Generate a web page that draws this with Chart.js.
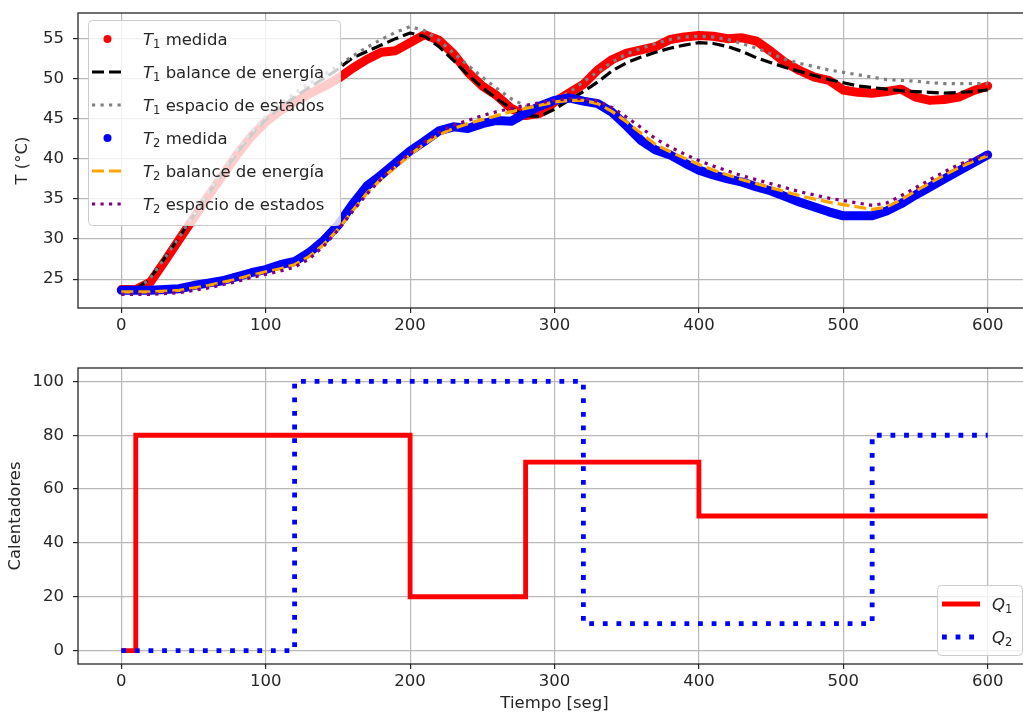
<!DOCTYPE html>
<html>
<head>
<meta charset="utf-8">
<title>Temperaturas y calentadores</title>
<script src="https://cdn.jsdelivr.net/npm/chart.js@4/dist/chart.umd.min.js"></script>
<style>
  html, body { margin: 0; padding: 0; background: #ffffff; overflow: hidden; width: 1023px; height: 717px; }
  .panel { position: absolute; left: 0; }
</style>
</head>
<body>
<div class="panel" style="top:0px"><canvas id="temperaturas" width="1040" height="345"></canvas></div>
<div class="panel" style="top:350px"><canvas id="calentadores" width="1040" height="367"></canvas></div>
<script>
// Tiempo de muestreo (s)
const tiempo = [0, 10, 20, 30, 40, 50, 60, 70, 80, 90,
  100, 110, 120, 130, 140, 150, 160, 170, 180, 190,
  200, 210, 220, 230, 240, 250, 260, 270, 280, 290,
  300, 310, 320, 330, 340, 350, 360, 370, 380, 390,
  400, 410, 420, 430, 440, 450, 460, 470, 480, 490,
  500, 510, 520, 530, 540, 550, 560, 570, 580, 590, 600];

// Temperatura 1 (°C)
const t1Medida = [23.7, 23.7, 24.6, 27.2, 29.9, 32.6, 35.3, 37.9, 40.5, 42.8,
  44.6, 46.0, 47.1, 48.1, 49.0, 50.0, 51.3, 52.4, 53.3, 53.5,
  54.5, 55.5, 54.8, 53.1, 50.8, 49.1, 47.9, 46.3, 45.4, 45.7,
  47.1, 48.2, 49.3, 51.1, 52.4, 53.2, 53.6, 54.0, 54.9, 55.2,
  55.4, 55.3, 55.0, 55.1, 54.7, 53.4, 52.0, 51.0, 50.2, 49.8,
  48.6, 48.3, 48.2, 48.4, 48.7, 47.7, 47.3, 47.4, 47.7, 48.5, 49.1];
const t1Balance = [23.6, 23.7, 25.1, 27.6, 30.2, 32.9, 35.6, 38.2, 40.7, 43.0,
  44.9, 46.4, 47.7, 48.9, 50.0, 51.2, 52.6, 53.4, 54.2, 55.0,
  55.7, 55.3, 54.0, 52.3, 50.5, 48.9, 47.5, 46.3, 45.4, 45.3,
  46.2, 47.3, 48.4, 49.6, 51.0, 52.0, 52.7, 53.3, 53.8, 54.2,
  54.5, 54.4, 54.0, 53.4, 52.6, 52.0, 51.4, 50.9, 50.4, 49.9,
  49.5, 49.1, 48.9, 48.7, 48.5, 48.4, 48.3, 48.2, 48.3, 48.4, 48.6];
const t1Estados = [23.5, 23.6, 25.1, 27.6, 30.2, 33.0, 35.8, 38.5, 41.1, 43.4,
  45.3, 46.9, 48.2, 49.4, 50.5, 51.6, 52.8, 53.9, 54.9, 55.8,
  56.5, 56.0, 54.8, 53.2, 51.7, 50.2, 48.8, 47.5, 46.6, 46.5,
  47.2, 48.3, 49.6, 50.9, 52.1, 53.1, 53.8, 54.4, 54.9, 55.2,
  55.3, 55.2, 54.9, 54.4, 53.8, 53.1, 52.4, 51.9, 51.5, 51.1,
  50.8, 50.5, 50.2, 49.9, 49.8, 49.7, 49.5, 49.4, 49.4, 49.4, 49.4];

// Temperatura 2 (°C)
const t2Medida = [23.6, 23.6, 23.6, 23.7, 23.8, 24.2, 24.5, 24.8, 25.3, 25.8,
  26.2, 26.8, 27.2, 28.3, 29.8, 31.7, 34.3, 36.6, 38.0, 39.5,
  41.0, 42.2, 43.5, 44.0, 43.8, 44.4, 44.8, 44.7, 45.7, 46.6,
  47.3, 47.6, 47.2, 46.9, 45.8, 44.1, 42.3, 41.1, 40.5, 39.5,
  38.6, 38.0, 37.5, 37.1, 36.5, 36.0, 35.3, 34.6, 34.0, 33.4,
  32.9, 32.9, 32.9, 33.5, 34.4, 35.5, 36.5, 37.5, 38.5, 39.5, 40.5];
const t2Balance = [23.4, 23.4, 23.4, 23.5, 23.6, 23.9, 24.2, 24.6, 25.0, 25.5,
  25.9, 26.3, 26.8, 27.8, 29.3, 31.2, 33.5, 35.7, 37.5, 39.0,
  40.5, 41.9, 43.0, 43.8, 44.4, 44.9, 45.4, 45.9, 46.3, 46.7,
  47.1, 47.3, 47.3, 46.9, 45.9, 44.6, 43.2, 41.8, 40.9, 40.1,
  39.3, 38.6, 38.0, 37.4, 36.9, 36.4, 35.9, 35.4, 35.0, 34.6,
  34.3, 34.0, 33.7, 34.0, 34.9, 36.0, 37.0, 38.0, 38.9, 39.7, 40.4];
const t2Estados = [23.1, 23.1, 23.1, 23.2, 23.3, 23.6, 23.9, 24.3, 24.7, 25.2,
  25.6, 26.0, 26.5, 27.5, 29.1, 31.1, 33.4, 35.6, 37.5, 39.2,
  40.7, 42.1, 43.3, 44.2, 44.8, 45.4, 45.9, 46.3, 46.7, 47.0,
  47.3, 47.5, 47.5, 47.2, 46.4, 45.2, 43.9, 42.5, 41.5, 40.6,
  39.8, 39.1, 38.5, 37.9, 37.4, 36.9, 36.4, 35.9, 35.5, 35.1,
  34.8, 34.5, 34.2, 34.5, 35.4, 36.4, 37.4, 38.4, 39.3, 40.0, 40.6];

// Calentadores (%): instante del cambio y nuevo valor
const q1Tiempo = [0, 10, 200, 280, 400, 600];
const q1Valor  = [0, 80, 20, 70, 50, 50];
const q2Tiempo = [0, 120, 320, 520, 600];
const q2Valor  = [0, 100, 10, 80, 80];

// Marcas de los ejes
const ticksTiempo = [0, 100, 200, 300, 400, 500, 600];
const ticksTemp = [25, 30, 35, 40, 45, 50, 55];
const ticksCal = [0, 20, 40, 60, 80, 100];

const FUENTE = '"DejaVu Sans", "Liberation Sans", sans-serif';
const TAM = 16.5;
const TINTA = '#262626';

Chart.defaults.font.family = FUENTE;
Chart.defaults.font.size = TAM;
Chart.defaults.color = TINTA;

const pares = (xs, ys) => xs.map((x, i) => ({ x: x, y: ys[i] }));
const subindice = { '\u2081': '1', '\u2082': '2' };

// Caja alrededor del área de trazado
const marco = {
  id: 'marco',
  afterDatasetsDraw(chart) {
    const { ctx, chartArea: a } = chart;
    ctx.save();
    ctx.strokeStyle = TINTA;
    ctx.lineWidth = 1.3;
    ctx.strokeRect(a.left, a.top, a.right - a.left, a.bottom - a.top);
    ctx.restore();
  }
};

// Leyenda con recuadro semitransparente y etiquetas con símbolo en cursiva y subíndice
const leyenda = {
  id: 'leyenda',
  afterDraw(chart, args, o) {
    const { ctx, chartArea: a } = chart;
    const bx = o.lado === 'derecha' ? a.right - o.margenX - o.ancho : a.left + o.margenX;
    const by = o.lado === 'derecha' ? a.bottom - o.margenY - o.alto : a.top + o.margenY;
    ctx.save();
    ctx.beginPath();
    ctx.roundRect(bx + 0.5, by + 0.5, o.ancho, o.alto, 4);
    ctx.fillStyle = 'rgba(255,255,255,0.8)';
    ctx.fill();
    ctx.strokeStyle = '#cccccc';
    ctx.lineWidth = 1;
    ctx.stroke();
    chart.data.datasets.forEach((ds, i) => {
      const cy = by + o.fila0 + i * o.paso;
      const hx0 = bx + o.muestra[0], hx1 = bx + o.muestra[1];
      if (ds.leyendaPunto) {
        ctx.beginPath();
        ctx.arc((hx0 + hx1) / 2, cy, 4, 0, 2 * Math.PI);
        ctx.fillStyle = ds.borderColor;
        ctx.fill();
      } else {
        ctx.beginPath();
        ctx.setLineDash(ds.borderDash || []);
        ctx.lineCap = 'butt';
        ctx.lineWidth = ds.borderWidth;
        ctx.strokeStyle = ds.borderColor;
        ctx.moveTo(hx0, cy);
        ctx.lineTo(hx1, cy);
        ctx.stroke();
        ctx.setLineDash([]);
      }
      const base = cy + 6;
      let x = bx + o.texto;
      ctx.fillStyle = TINTA;
      ctx.textAlign = 'left';
      ctx.textBaseline = 'alphabetic';
      const simbolo = ds.label[0];
      const sub = subindice[ds.label[1]] || '';
      const resto = ds.label.slice(2);
      ctx.font = 'italic ' + TAM + 'px ' + FUENTE;
      ctx.fillText(simbolo, x, base);
      x += ctx.measureText(simbolo).width;
      ctx.font = '11.5px ' + FUENTE;
      ctx.fillText(sub, x, base + 3);
      x += ctx.measureText(sub).width;
      ctx.font = TAM + 'px ' + FUENTE;
      ctx.fillText(resto, x, base);
    });
    ctx.restore();
  }
};

function ejeX(altura, titulo, rellenoTitulo) {
  return {
    type: 'linear',
    min: -30,
    max: 630,
    afterBuildTicks: (s) => { s.ticks = ticksTiempo.map(v => ({ value: v })); },
    afterFit: (s) => { s.height = altura; s.paddingLeft = 0; s.paddingRight = 0; s.paddingTop = 0; s.paddingBottom = 0; },
    ticks: { padding: 3, maxRotation: 0, autoSkip: false, color: TINTA, callback: (v) => String(v) },
    grid: { color: '#b8b8b8', lineWidth: 1.2, tickColor: TINTA, tickLength: 5, tickWidth: 1.2 },
    border: { display: false },
    title: titulo ? { display: true, text: titulo, color: TINTA, padding: { top: 0, bottom: rellenoTitulo } } : { display: false }
  };
}

function ejeY(min, max, marcas, titulo, rellenoTitulo) {
  return {
    type: 'linear',
    min: min,
    max: max,
    afterBuildTicks: (s) => { s.ticks = marcas.map(v => ({ value: v })); },
    afterFit: (s) => { s.width = 78; s.paddingLeft = 0; s.paddingRight = 0; s.paddingTop = 0; s.paddingBottom = 0; },
    ticks: { padding: 9, autoSkip: false, color: TINTA, callback: (v) => String(v) },
    grid: { color: '#b8b8b8', lineWidth: 1.2, tickColor: TINTA, tickLength: 5, tickWidth: 1.2 },
    border: { display: false },
    title: { display: true, text: titulo, color: TINTA, padding: { top: rellenoTitulo, bottom: 0 } }
  };
}

function medida(label, ys, color, orden) {
  return {
    label: label, data: pares(tiempo, ys), borderColor: color, backgroundColor: color,
    borderWidth: 9, borderCapStyle: 'round', borderJoinStyle: 'round',
    pointRadius: 0, leyendaPunto: true, order: orden
  };
}

function modelo(label, ys, color, trazo, orden) {
  return {
    label: label, data: pares(tiempo, ys), borderColor: color, backgroundColor: color,
    borderWidth: 3.2, borderDash: trazo, borderJoinStyle: 'round',
    pointRadius: 0, order: orden
  };
}

const DISCONTINUA = [12, 5];
const PUNTEADA = [3.2, 5.3];

new Chart(document.getElementById('temperaturas'), {
  type: 'line',
  data: {
    datasets: [
      medida('T\u2081 medida', t1Medida, '#ff0000', 6),
      modelo('T\u2081 balance de energía', t1Balance, '#000000', DISCONTINUA, 5),
      modelo('T\u2081 espacio de estados', t1Estados, '#808080', PUNTEADA, 4),
      medida('T\u2082 medida', t2Medida, '#0000ff', 3),
      modelo('T\u2082 balance de energía', t2Balance, '#ffa500', DISCONTINUA, 2),
      modelo('T\u2082 espacio de estados', t2Estados, '#800080', PUNTEADA, 1)
    ]
  },
  options: {
    responsive: false,
    animation: false,
    events: [],
    layout: { padding: { left: 0, top: 13, right: 9, bottom: 0 } },
    scales: {
      x: ejeX(37, null, 0),
      y: ejeY(21.4, 58.2, ticksTemp, 'T (°C)', 13)
    },
    plugins: {
      legend: { display: false },
      tooltip: { enabled: false },
      leyenda: { lado: 'izquierda', margenX: 10, margenY: 7, ancho: 252, alto: 205, fila0: 19, paso: 33, muestra: [4, 35], texto: 55 }
    }
  },
  plugins: [marco, leyenda]
});

new Chart(document.getElementById('calentadores'), {
  type: 'line',
  data: {
    datasets: [
      {
        label: 'Q\u2081', data: pares(q1Tiempo, q1Valor), borderColor: '#ff0000', backgroundColor: '#ff0000',
        borderWidth: 4.8, stepped: 'before', pointRadius: 0, order: 2
      },
      {
        label: 'Q\u2082', data: pares(q2Tiempo, q2Valor), borderColor: '#0000ff', backgroundColor: '#0000ff',
        borderWidth: 4.8, borderDash: [4.8, 8.8], stepped: 'before', pointRadius: 0, order: 1
      }
    ]
  },
  options: {
    responsive: false,
    animation: false,
    events: [],
    layout: { padding: { left: 0, top: 18, right: 9, bottom: 0 } },
    scales: {
      x: ejeX(53, 'Tiempo [seg]', 3),
      y: ejeY(-5, 105, ticksCal, 'Calentadores', 6)
    },
    plugins: {
      legend: { display: false },
      tooltip: { enabled: false },
      leyenda: { lado: 'derecha', margenX: 9, margenY: 9, ancho: 85, alto: 70, fila0: 19, paso: 33, muestra: [5, 43], texto: 55 }
    }
  },
  plugins: [marco, leyenda]
});
</script>
</body>
</html>
